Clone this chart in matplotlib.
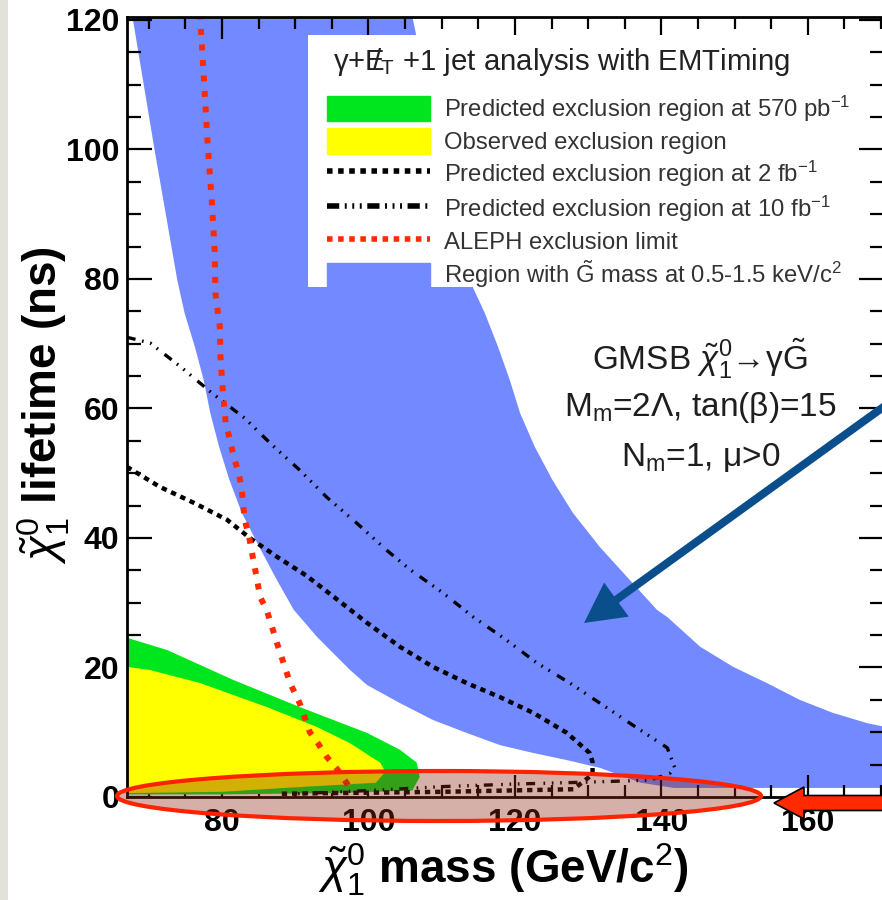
import numpy as np
import matplotlib
matplotlib.use('Agg')
import matplotlib.pyplot as plt
from matplotlib.patches import Patch, Ellipse, FancyArrow, Rectangle
from matplotlib.lines import Line2D
from matplotlib.ticker import MultipleLocator

plt.rcParams['font.family'] = ['Liberation Sans', 'DejaVu Sans']
plt.rcParams['mathtext.fontset'] = 'custom'
plt.rcParams['mathtext.rm'] = 'Liberation Sans'
plt.rcParams['mathtext.it'] = 'Liberation Sans:italic'
plt.rcParams['mathtext.bf'] = 'Liberation Sans:bold'

# ---------------- data (mass in GeV/c^2, lifetime in ns) ----------------
band_lower_x = [67.7, 70.8, 73.9, 74.9, 76.3, 77.5, 78.4, 79.6, 81.0, 82.7, 85.1, 87.5,
                89.8, 93.0, 95.2, 97.5, 99.8, 104.3, 108.8, 113.4, 118.0, 122.5, 127.1,
                131.6, 137.2, 141.7, 172.0]
band_lower_y = [121.0, 99.9, 79.8, 74.7, 69.5, 64.4, 59.3, 54.1, 49.0, 43.9, 38.6, 33.5,
                28.9, 24.7, 22.2, 19.6, 17.3, 14.5, 11.9, 9.9, 8.0, 6.8, 5.7,
                4.5, 2.2, 1.4, 1.4]
band_upper_x = [105.9, 110.0, 114.3, 115.9, 117.7, 119.3, 120.7, 122.7, 125.1, 127.9,
                131.6, 135.7, 139.4, 140.8, 145.3, 149.8, 154.4, 158.9, 163.4, 168.1, 172.0]
band_upper_y = [121.0, 99.0, 78.6, 74.7, 69.5, 64.4, 59.3, 54.1, 49.0, 43.9,
                38.6, 33.5, 28.9, 27.8, 23.2, 20.1, 17.6, 15.0, 13.0, 11.4, 10.5]

green_upper_x = [67.0, 72.5, 81.5, 90.6, 99.8, 104.3, 106.6, 107.0]
green_upper_y = [24.6, 22.7, 18.1, 13.9, 9.9, 7.3, 5.3, 3.1]
green_lower_x = [106.0, 95.0, 80.0, 67.0]
green_lower_y = [1.0, 0.6, 0.4, 0.4]

yellow_upper_x = [67.0, 70.2, 77.0, 86.1, 93.0, 97.5, 101.6, 102.3]
yellow_upper_y = [20.1, 19.6, 17.6, 13.9, 10.8, 8.3, 5.3, 3.9]
yellow_lower_x = [101.0, 90.0, 80.0, 67.0]
yellow_lower_y = [2.2, 1.5, 0.8, 0.6]

aleph_x = [77.0, 77.7, 78.1, 78.6, 79.0, 79.1, 79.7, 79.8, 80.1, 80.5, 81.1, 81.6, 82.3,
           82.7, 83.1, 83.7, 84.1, 84.8, 85.2, 86.1, 87.5, 89.3, 90.6, 92.0, 93.1,
           94.3, 95.8, 97.0, 97.9]
aleph_y = [121.0, 107.6, 99.9, 92.2, 84.5, 77.8, 72.6, 67.8, 62.9, 57.8, 55.1, 52.5, 50.0,
           47.4, 42.8, 40.2, 37.7, 33.5, 30.9, 28.9, 23.8, 17.6, 14.5, 10.0, 8.3,
           6.2, 4.2, 2.2, 0.6]

fb2_x = [67.0, 71.5, 76.2, 80.7, 83.8, 87.5, 91.5, 95.5, 99.8, 104.3, 108.8, 113.4,
         118.0, 122.5, 127.1, 130.2, 130.6, 130.6, 128.0, 110.0, 95.0, 88.0]
fb2_y = [51.0, 47.9, 45.4, 42.8, 40.0, 37.1, 34.2, 30.7, 26.9, 23.2, 20.1, 17.6,
         15.4, 13.0, 9.9, 6.8, 5.4, 3.5, 1.2, 0.8, 0.6, 0.5]

fb10_x = [67.0, 70.2, 74.5, 78.6, 83.1, 86.8, 90.6, 94.3, 98.4, 102.5, 105.7, 110.2,
          114.3, 118.9, 123.0, 127.5, 132.0, 136.1, 140.8, 141.8, 141.2, 138.5, 130.0,
          120.0, 110.0, 100.0, 90.0]
fb10_y = [71.0, 70.1, 66.3, 62.4, 58.5, 54.4, 50.5, 46.3, 42.3, 38.1, 35.1, 31.5,
          27.8, 24.2, 20.7, 17.6, 14.2, 11.1, 7.6, 4.6, 3.7, 2.6, 2.3,
          2.0, 1.6, 1.0, 0.5]

x_ticks = [80, 100, 120, 140, 160]
x_tick_labels = ['80', '100', '120', '140', '160']
y_ticks = [0, 20, 40, 60, 80, 100, 120]
y_tick_labels = ['0', '20', '40', '60', '80', '100', '120']

legend_title = r'γ+$\mathrm{E}\!\!\!/_{\mathrm{T}}$ +1 jet analysis with EMTiming'
legend_labels = [r'Predicted exclusion region at 570 pb$^{-1}$',
                 'Observed exclusion region',
                 r'Predicted exclusion region at 2 fb$^{-1}$',
                 r'Predicted exclusion region at 10 fb$^{-1}$',
                 'ALEPH exclusion limit',
                 r'Region with $\tilde{\mathrm{G}}$ mass at 0.5-1.5 keV/c$^{2}$']
model_lines = [r'GMSB $\tilde{\chi}^{0}_{1}$→γ$\tilde{\mathrm{G}}$',
               r'M$_{\mathrm{m}}$=2Λ, tan(β)=15',
               r'N$_{\mathrm{m}}$=1, μ>0']

C_BLUE = '#7389ff'
C_GREEN = '#00e61e'
C_YELLOW = '#ffff00'
C_RED = '#ff2a00'

# ---------------- figure ----------------
fig = plt.figure(figsize=(8.82, 9.0), dpi=100)
ax = fig.add_axes([127 / 882, 103 / 900, 757 / 882, 780 / 900])
ax.set_xlim(67.03, 170.4)
ax.set_ylim(0, 120.45)

ax.fill(band_lower_x + band_upper_x[::-1], band_lower_y + band_upper_y[::-1],
        color=C_BLUE, lw=0, zorder=1)
ax.fill(green_upper_x + green_lower_x, green_upper_y + green_lower_y,
        color=C_GREEN, lw=0, zorder=2)
ax.fill(yellow_upper_x + yellow_lower_x, yellow_upper_y + yellow_lower_y,
        color=C_YELLOW, lw=0, zorder=3)

ls_2fb = (0, (1.2, 1.1))
ls_10fb = (0, (2.7, 2.0, 0.5, 2.0, 0.5, 2.0, 0.5, 2.5))
ls_aleph = (0, (1.0, 1.6))
ax.plot(fb2_x, fb2_y, color='black', lw=3.2, ls=ls_2fb, zorder=4)
ax.plot(fb10_x, fb10_y, color='black', lw=2.4, ls=ls_10fb, zorder=4)
ax.plot(aleph_x, aleph_y, color=C_RED, lw=4.3, ls=ls_aleph, zorder=5)

for i, s in enumerate(model_lines):
    ax.text(145.3, [67.6, 60.1, 52.5][i], s, ha='center', va='center',
            fontsize=24, color='#1e1e1e', zorder=6)

# axes styling
ax.set_xticks(x_ticks)
ax.set_xticklabels(x_tick_labels, fontweight='bold')
ax.set_yticks(y_ticks)
ax.set_yticklabels(y_tick_labels, fontweight='bold')
ax.xaxis.set_minor_locator(MultipleLocator(5))
ax.yaxis.set_minor_locator(MultipleLocator(5))
ax.tick_params(which='both', direction='in', top=True, right=True, width=1.6)
ax.tick_params(axis='y', which='major', length=18, pad=5.5, labelsize=23)
ax.tick_params(axis='y', which='minor', length=10)
ax.tick_params(axis='x', which='major', length=16, pad=8, labelsize=23)
ax.tick_params(axis='x', which='minor', length=8.5)
for sp in ax.spines.values():
    sp.set_linewidth(2)
    sp.set_zorder(7)

ax.set_ylabel(r'$\tilde{\chi}^{0}_{1}$ lifetime (ns)', fontsize=33, fontweight='bold')
ax.yaxis.set_label_coords(-0.0727, 0.5026)
ax.set_xlabel(r'$\tilde{\chi}^{0}_{1}$ mass (GeV/c$^{2}$)', fontsize=33, fontweight='bold')
ax.xaxis.set_label_coords(0.4967, -0.057)

# legend: white box, title, entries
ax.add_patch(Rectangle((0.239, 0.654), 0.7227, 0.323, transform=ax.transAxes,
                       facecolor='white', lw=0, zorder=8))
ax.text(0.2721, 0.9425, legend_title, transform=ax.transAxes, ha='left', va='center',
        fontsize=21.2, color='#222222', zorder=9)
handles = [Patch(facecolor=C_GREEN, edgecolor=C_GREEN),
           Patch(facecolor=C_YELLOW, edgecolor=C_YELLOW),
           Line2D([], [], color='black', lw=4.0, ls=(0, (1.0, 1.0))),
           Line2D([], [], color='black', lw=4.0, ls=(0, (2.2, 1.0, 0.35, 1.0, 0.35, 1.0, 0.35, 1.0))),
           Line2D([], [], color=C_RED, lw=4.0, ls=(0, (1.0, 1.0))),
           Patch(facecolor=C_BLUE, edgecolor=C_BLUE)]
leg = ax.legend(handles, legend_labels, loc='upper left',
                bbox_to_anchor=(0.2642, 0.902), fontsize=17.2,
                frameon=False, handlelength=4.3, handleheight=1.28, labelspacing=0.19,
                borderpad=0, handletextpad=0.6, borderaxespad=0)
leg.set_zorder(9)
for t in leg.get_texts():
    t.set_color('#333333')

# ---------------- slide annotations (pixel space overlay) ----------------
ov = fig.add_axes([0, 0, 1, 1], zorder=10)
ov.set_xlim(0, 882)
ov.set_ylim(900, 0)
ov.axis('off')
ov.patch.set_alpha(0)
ov.add_patch(Rectangle((0, 0), 8, 900, color='#e2e2da', lw=0))
ov.add_patch(Ellipse((439, 796), 644, 50, facecolor=(0.55, 0.16, 0.08, 0.37),
                     edgecolor='#ff2200', lw=3))
ov.add_patch(FancyArrow(900, 395, 584 - 900, 623 - 395, width=8, head_width=42,
                        head_length=40, length_includes_head=True,
                        color='#0a4f8c', lw=0))
ov.add_patch(FancyArrow(900, 803, 774 - 900, 0, width=15, head_width=32,
                        head_length=30, length_includes_head=True,
                        facecolor='#ff2a00', edgecolor='black', lw=1.2))

fig.savefig('out.png', dpi=100)
